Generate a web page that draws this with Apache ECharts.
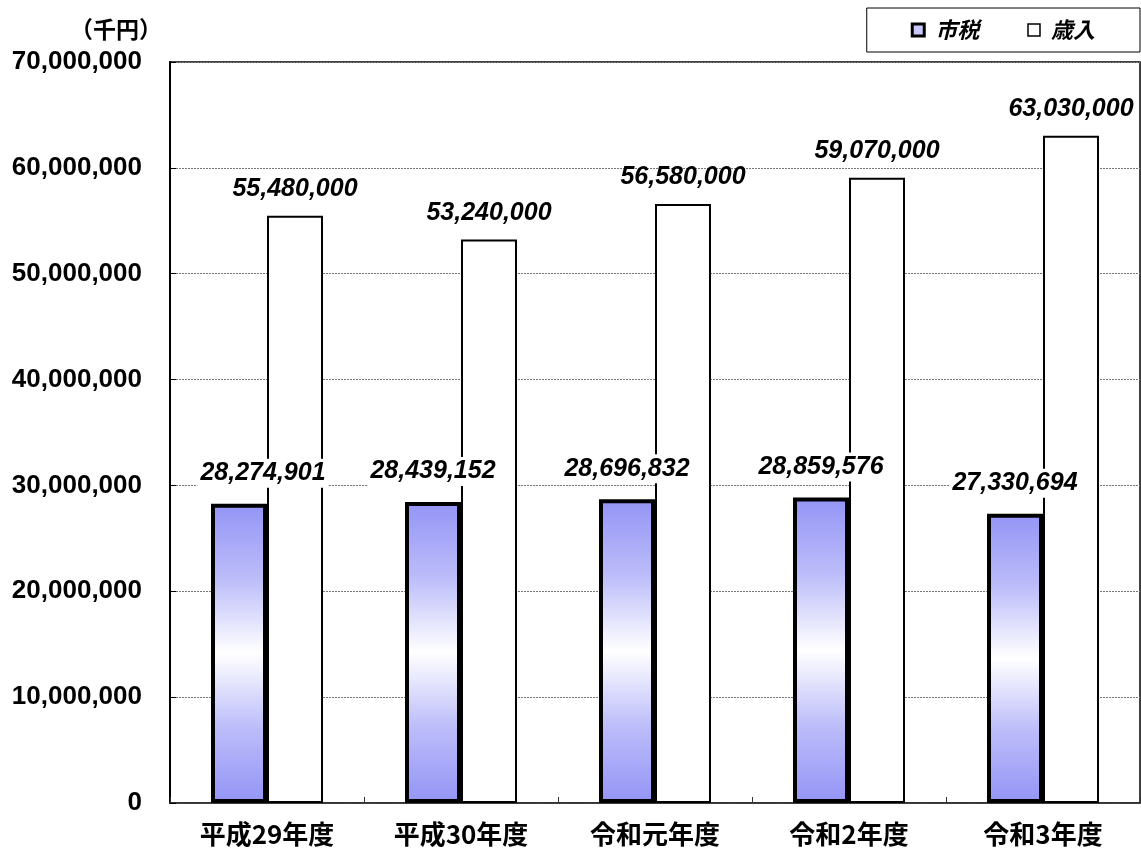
<!DOCTYPE html>
<html>
<head>
<meta charset="utf-8">
<script src="https://cdn.jsdelivr.net/npm/echarts@6/dist/echarts.min.js"></script>
<style>
html,body{margin:0;padding:0;background:#fff;}
#chart{width:1141px;height:849px;}
</style>
</head>
<body>
<div id="chart"></div>
<script>
var categories = ['平成29年度', '平成30年度', '令和元年度', '令和2年度', '令和3年度'];
var shizei = [28274901, 28439152, 28696832, 28859576, 27330694];
var sainyu = [55480000, 53240000, 56580000, 59070000, 63030000];
var seriesNames = ['市税', '歳入'];
var unitLabel = '（千円）';

function comma(v) {
  return String(v).replace(/\B(?=(\d{3})+(?!\d))/g, ',');
}

var FONT = "'Liberation Sans', 'Noto Sans CJK JP', sans-serif";
var CJK = "'Noto Sans CJK JP', 'Liberation Sans', sans-serif";

var gradient = new echarts.graphic.LinearGradient(0, 0, 0, 1, [
  {offset: 0, color: '#9494f6'},
  {offset: 0.25, color: '#bcbcfa'},
  {offset: 0.5, color: '#ffffff'},
  {offset: 0.75, color: '#bcbcfa'},
  {offset: 1, color: '#9494f6'}
]);

var labelBase = {
  show: true,
  position: 'top',
  fontFamily: FONT,
  fontSize: 25,
  fontWeight: 'bold',
  fontStyle: 'italic',
  color: '#000',
  formatter: function (p) { return comma(p.value); }
};

var shizeiData = shizei.map(function (v, i) {
  var d = {value: v};
  if (i === 0) d.label = {offset: [24, 0]};
  return d;
});

var chart = echarts.init(document.getElementById('chart'));
chart.setOption({
  animation: false,
  backgroundColor: '#fff',
  grid: {
    left: 170, right: 1, top: 62, bottom: 46,
    show: true, borderColor: '#000', borderWidth: 1.5, backgroundColor: 'transparent'
  },
  graphic: [{
    type: 'text', left: 70, top: 18,
    style: {text: unitLabel, fontFamily: CJK, fontSize: 23, fontWeight: 'bold', fill: '#000'}
  }],
  legend: {
    right: 1, top: 8,
    padding: [11, 45, 11, 44],
    itemGap: 48,
    itemWidth: 12, itemHeight: 12,
    borderColor: '#000', borderWidth: 1, backgroundColor: '#fff',
    textStyle: {fontFamily: CJK, fontSize: 22, fontWeight: 'bold', fontStyle: 'italic', color: '#000', padding: [0, 0, 0, 6]},
    data: [
      {name: seriesNames[0], icon: 'rect', itemStyle: {color: '#c8c8ff', borderColor: '#000', borderWidth: 3}},
      {name: seriesNames[1], icon: 'rect', itemStyle: {color: '#fff', borderColor: '#000', borderWidth: 1.5}}
    ]
  },
  xAxis: {
    type: 'category',
    data: categories,
    axisLine: {lineStyle: {color: '#333', width: 1.5}},
    axisTick: {show: true, inside: true, length: 6, lineStyle: {color: '#333'}},
    axisLabel: {fontFamily: CJK, fontSize: 26, fontWeight: 'bold', color: '#000', margin: 18}
  },
  yAxis: {
    type: 'value',
    min: 0, max: 70000000, interval: 10000000,
    axisLine: {show: true, lineStyle: {color: '#000', width: 2}},
    axisTick: {show: true, inside: true, length: 6, lineStyle: {color: '#000'}},
    axisLabel: {fontFamily: FONT, fontSize: 26, fontWeight: 'bold', color: '#000', margin: 28,
      formatter: function (v) { return comma(v); }},
    splitLine: {show: true, lineStyle: {color: '#777', type: [2, 1], width: 1}}
  },
  series: [
    {
      name: seriesNames[0], type: 'bar', barWidth: 56, barGap: '0%',
      data: shizeiData,
      itemStyle: {color: gradient, borderColor: '#000', borderWidth: 4},
      label: Object.assign({}, labelBase, {distance: 16, backgroundColor: '#fff', padding: [2, 3]}),
      z: 3
    },
    {
      name: seriesNames[1], type: 'bar', barWidth: 56,
      data: sainyu,
      itemStyle: {color: '#fff', borderColor: '#000', borderWidth: 2},
      label: Object.assign({}, labelBase, {distance: 14}),
      z: 2
    }
  ]
});
</script>
</body>
</html>
